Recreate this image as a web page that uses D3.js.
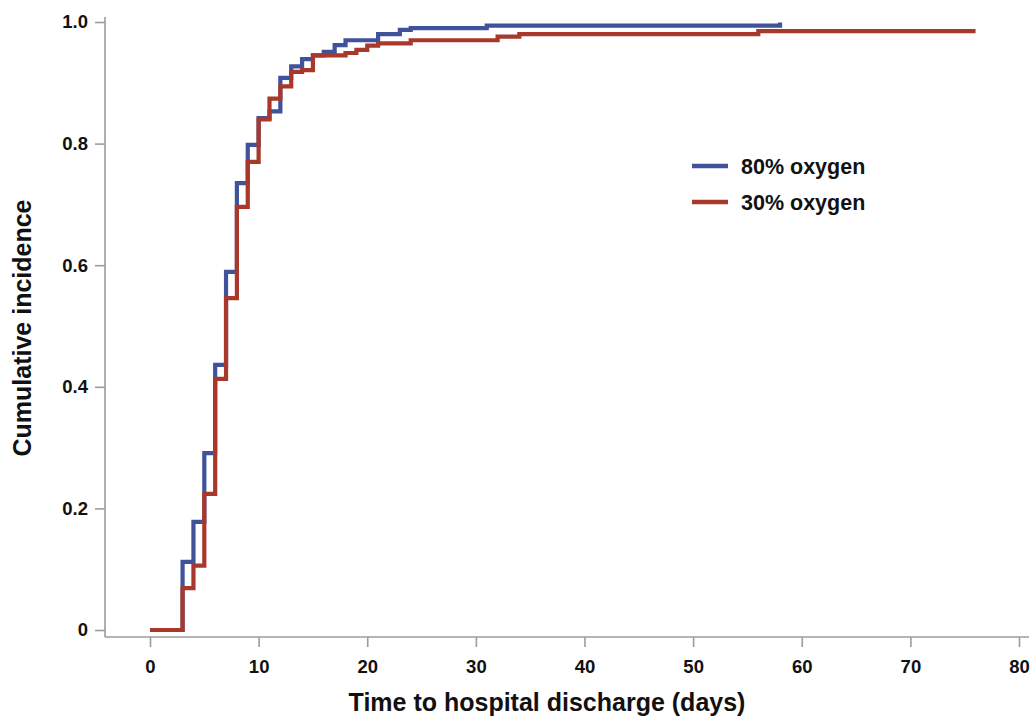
<!DOCTYPE html>
<html>
<head>
<meta charset="utf-8">
<script src="https://cdn.jsdelivr.net/npm/d3@7"></script>
<style>
  body { margin: 0; background: #fff; }
  svg { display: block; font-family: "Liberation Sans", Arial, sans-serif; font-weight: bold; }
</style>
</head>
<body>
<svg id="chart" width="1032" height="717"></svg>
<script>
// step data (day, cumulative incidence)
var days80 = [0, 3, 4, 5, 6, 7, 8, 9, 10, 11, 12, 13, 14, 15, 16, 17, 18, 21, 23, 24, 31, 58];
var cum80  = [0, 0.112, 0.178, 0.291, 0.436, 0.589, 0.735, 0.798, 0.842, 0.853, 0.908, 0.927, 0.939, 0.945, 0.951, 0.962, 0.970, 0.980, 0.987, 0.990, 0.994, 0.999];

var days30 = [0, 3, 4, 5, 6, 7, 8, 9, 10, 11, 12, 13, 14, 15, 18, 19, 20, 21, 24, 32, 34, 56, 76];
var cum30  = [0, 0.069, 0.106, 0.224, 0.413, 0.546, 0.696, 0.770, 0.840, 0.874, 0.894, 0.918, 0.921, 0.945, 0.949, 0.954, 0.961, 0.965, 0.970, 0.976, 0.980, 0.985, 0.985];

var xTicks = [0, 10, 20, 30, 40, 50, 60, 70, 80];
var yTicks = [0, 0.2, 0.4, 0.6, 0.8, 1.0];

var series = [
    { name: "80% oxygen", days: days80, cum: cum80, color: "#40529a" },
    { name: "30% oxygen", days: days30, cum: cum30, color: "#a8382c" }
];

var svg = d3.select("svg#chart");
var axisColor = "#9c9c9c";

var x = d3.scaleLinear().domain([0, 80]).range([150, 1019]);
var y = d3.scaleLinear().domain([0, 1]).range([630, 22]);

var axisX = 105, axisY = 637;

// axes lines
svg.append("line")
    .attr("x1", axisX).attr("x2", axisX)
    .attr("y1", 17).attr("y2", axisY)
    .attr("stroke", axisColor).attr("stroke-width", 1.6);
svg.append("line")
    .attr("x1", axisX).attr("x2", 1029)
    .attr("y1", axisY).attr("y2", axisY)
    .attr("stroke", axisColor).attr("stroke-width", 1.6);

var gx = svg.append("g")
    .attr("transform", "translate(0," + axisY + ")")
    .call(d3.axisBottom(x).tickValues(xTicks).tickSize(10).tickSizeOuter(0).tickPadding(13));
var gy = svg.append("g")
    .attr("transform", "translate(" + axisX + ",0)")
    .call(d3.axisLeft(y).tickValues(yTicks).tickSize(10).tickSizeOuter(0).tickPadding(7)
        .tickFormat(function(d) { return d === 0 ? "0" : d3.format(".1f")(d); }));

[gx, gy].forEach(function(g) {
    g.select(".domain").remove();
    g.selectAll(".tick line").attr("stroke", axisColor).attr("stroke-width", 1.6);
    g.selectAll(".tick text")
        .attr("fill", "#111")
        .style("font-size", "18.5px")
        .style("font-family", "'Liberation Sans', Arial, sans-serif")
        .style("font-weight", "bold");
});

// axis titles
svg.append("text")
    .attr("x", 547).attr("y", 711)
    .attr("text-anchor", "middle")
    .style("font-size", "25px")
    .attr("fill", "#111")
    .text("Time to hospital discharge (days)");

svg.append("text")
    .attr("transform", "translate(31,328) rotate(-90)")
    .attr("text-anchor", "middle")
    .style("font-size", "25px")
    .attr("fill", "#111")
    .text("Cumulative incidence");

// step curves
var line = d3.line()
    .x(function(d) { return x(d[0]); })
    .y(function(d) { return y(d[1]); })
    .curve(d3.curveStepAfter);

svg.append("g")
    .selectAll("path")
    .data(series)
    .enter().append("path")
    .attr("d", function(s) { return line(d3.zip(s.days, s.cum)); })
    .attr("fill", "none")
    .attr("stroke", function(s) { return s.color; })
    .attr("stroke-width", 4.2)
    .attr("stroke-linejoin", "miter");

// legend
var legend = svg.append("g")
    .selectAll("g")
    .data(series)
    .enter().append("g")
    .attr("transform", function(d, i) { return "translate(692," + (166 + i * 36) + ")"; });

legend.append("line")
    .attr("x1", 0).attr("x2", 36)
    .attr("stroke", function(d) { return d.color; })
    .attr("stroke-width", 4.5);

legend.append("text")
    .attr("x", 49).attr("y", 7.5)
    .style("font-size", "21.5px")
    .attr("fill", "#111")
    .text(function(d) { return d.name; });
</script>
</body>
</html>
